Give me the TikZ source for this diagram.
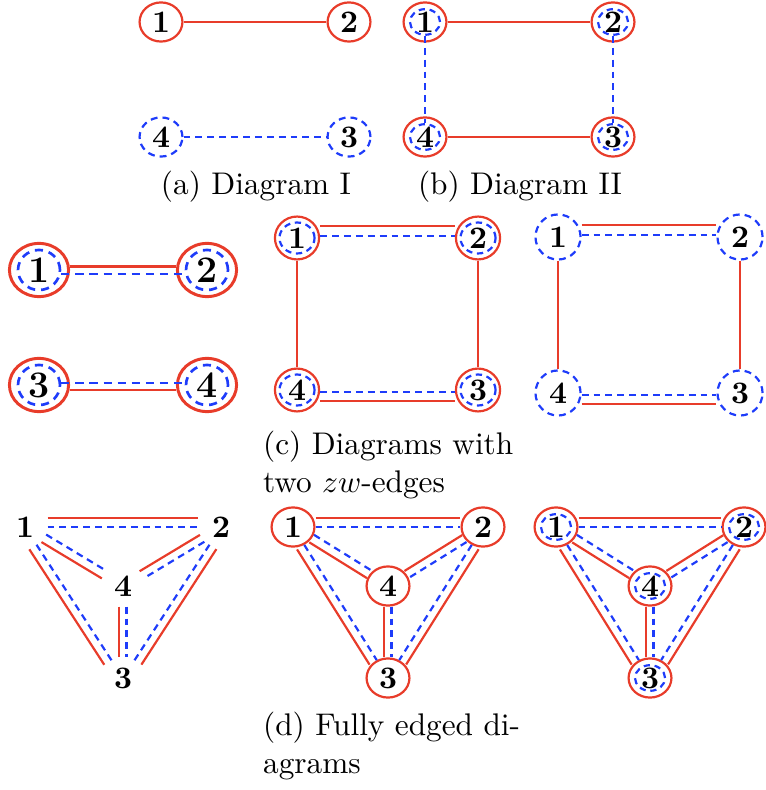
\documentclass[tikz,border=0pt]{standalone}
\usepackage{amssymb,amsmath}
\usepackage{tikz}
\usetikzlibrary{shapes.geometric}
\definecolor{ered}{RGB}{232,60,42}
\definecolor{eblue}{RGB}{30,60,250}

\begin{document}
\begin{tikzpicture}[x=0.3195pt,y=-0.3195pt,line width=0.7pt,
  vx/.style={ellipse,inner sep=0pt,minimum width=13.7pt,minimum height=12.5pt,font=\normalsize\bfseries},
  rv/.style={vx,draw=ered},
  bv/.style={vx,draw=eblue,dash pattern=on 2.2pt off 1.6pt},
  iv/.style={ellipse,inner sep=0pt,draw=eblue,dash pattern=on 2pt off 1.5pt,minimum width=9.6pt,minimum height=8.2pt},
  re/.style={draw=ered},
  be/.style={draw=eblue,dash pattern=on 2.2pt off 1.6pt},
  big/.style={minimum width=18.9pt,minimum height=17pt,line width=0.95pt,font=\fontsize{12}{14}\selectfont\bfseries},
  bigi/.style={minimum width=13.4pt,minimum height=12.8pt,line width=0.85pt,dash pattern=on 2.6pt off 1.9pt},
  captxt/.style={inner sep=0pt,font=\normalsize}]
\useasboundingbox (0,0) rectangle (765,790);

% (a)
\node[rv] (a1) at (161,22) {1};
\node[rv] (a2) at (349,22) {2};
\node[bv] (a3) at (349,137) {3};
\node[bv] (a4) at (161,137) {4};
\draw[re] (a1) -- (a2);
\draw[be] (a4) -- (a3);
\node[captxt,anchor=base] (capa) at (256,195) {(a) Diagram I};

% (b)
\foreach \i/\x/\y in {1/425/22,2/613/22,3/613/137,4/425/137}{
  \node[rv] (b\i) at (\x,\y) {\i};
  \node[iv] (bi\i) at (\x,\y) {};
}
\draw[re] (b1) -- (b2);
\draw[re] (b4) -- (b3);
\draw[be] (bi1) -- (bi4);
\draw[be] (bi2) -- (bi3);
\node[captxt,anchor=base] (capb) at (520,195) {(b) Diagram II};

% (c)
\foreach \i/\x/\y in {1/39/270,2/207/270,3/39/385,4/207/385}{
  \node[rv,big] (ca\i) at (\x,\y) {\i};
  \node[iv,bigi] (cai\i) at (\x,\y) {};
}
\draw[re,line width=0.95pt,transform canvas={yshift=1pt}] (ca1) -- (ca2);
\draw[be,bigi,transform canvas={yshift=-1.3pt}] (cai1) -- (cai2);
\draw[be,bigi,transform canvas={yshift=0.65pt}] (cai3) -- (cai4);
\draw[re,line width=0.95pt,transform canvas={yshift=-1.6pt}] (ca3) -- (ca4);

\foreach \i/\x/\y in {1/297/238,2/478/238,3/478/390,4/297/390}{
  \node[rv,minimum height=13.7pt,minimum width=14.1pt] (cb\i) at (\x,\y) {\i};
  \node[iv,minimum width=11.2pt,minimum height=9.9pt] (cbi\i) at (\x,\y) {};
}
\foreach \i/\x/\y in {1/558/237,2/740/237,3/740/393,4/558/393}
  \node[bv,minimum width=14.4pt,minimum height=14.4pt] (cc\i) at (\x,\y) {\i};
\foreach \p in {cb,cc}{
  \draw[re,transform canvas={yshift=3.8pt}] (\p1) -- (\p2);
  \draw[be,transform canvas={yshift=0.65pt}] (\p1) -- (\p2);
  \draw[re] (\p1) -- (\p4);
  \draw[re] (\p2) -- (\p3);
  \draw[be,transform canvas={yshift=-0.65pt}] (\p4) -- (\p3);
  \draw[re,transform canvas={yshift=-3.5pt}] (\p4) -- (\p3);
}
\node[captxt,anchor=base west,align=left] (capc) at (262,492) {(c) Diagrams with\\two $zw$-edges};

% (d)
\foreach \p/\x/\w/\s in {da/123/98/vx,db/388/95/rv,dc/650/94/rv}{
  \node[\s] (\p1) at (\x-\w,527) {1};
  \node[\s] (\p2) at (\x+\w,527) {2};
  \node[\s] (\p3) at (\x,678) {3};
  \node[\s] (\p4) at (\x,586) {4};
  \draw[re,transform canvas={yshift=2.9pt}] (\p1) -- (\p2);
  \draw[be] (\p1) -- (\p2);
  \draw[re,transform canvas={xshift=-2.3pt,yshift=-1.45pt}] (\p1) -- (\p3);
  \draw[be] (\p1) -- (\p3);
  \draw[re,transform canvas={xshift=2.2pt,yshift=-1.4pt}] (\p2) -- (\p3);
  \draw[be] (\p2) -- (\p3);
  \draw[re,transform canvas={xshift=-0.75pt,yshift=-1.2pt}] (\p1) -- (\p4);
  \draw[be,transform canvas={xshift=0.75pt,yshift=1.2pt}] (\p1) -- (\p4);
  \draw[re,transform canvas={xshift=-0.7pt,yshift=1.1pt}] (\p2) -- (\p4);
  \draw[be,transform canvas={xshift=0.7pt,yshift=-1.1pt}] (\p2) -- (\p4);
  \draw[re,transform canvas={xshift=-1.4pt}] (\p4) -- (\p3);
  \draw[be,transform canvas={xshift=1.1pt}] (\p4) -- (\p3);
}
\foreach \i in {1,2,3,4}
  \node[iv] (dci\i) at (dc\i) {};
\node[captxt,anchor=base west,align=left] (capd) at (262,773) {(d) Fully edged di-\\agrams};
\end{tikzpicture}
\end{document}
